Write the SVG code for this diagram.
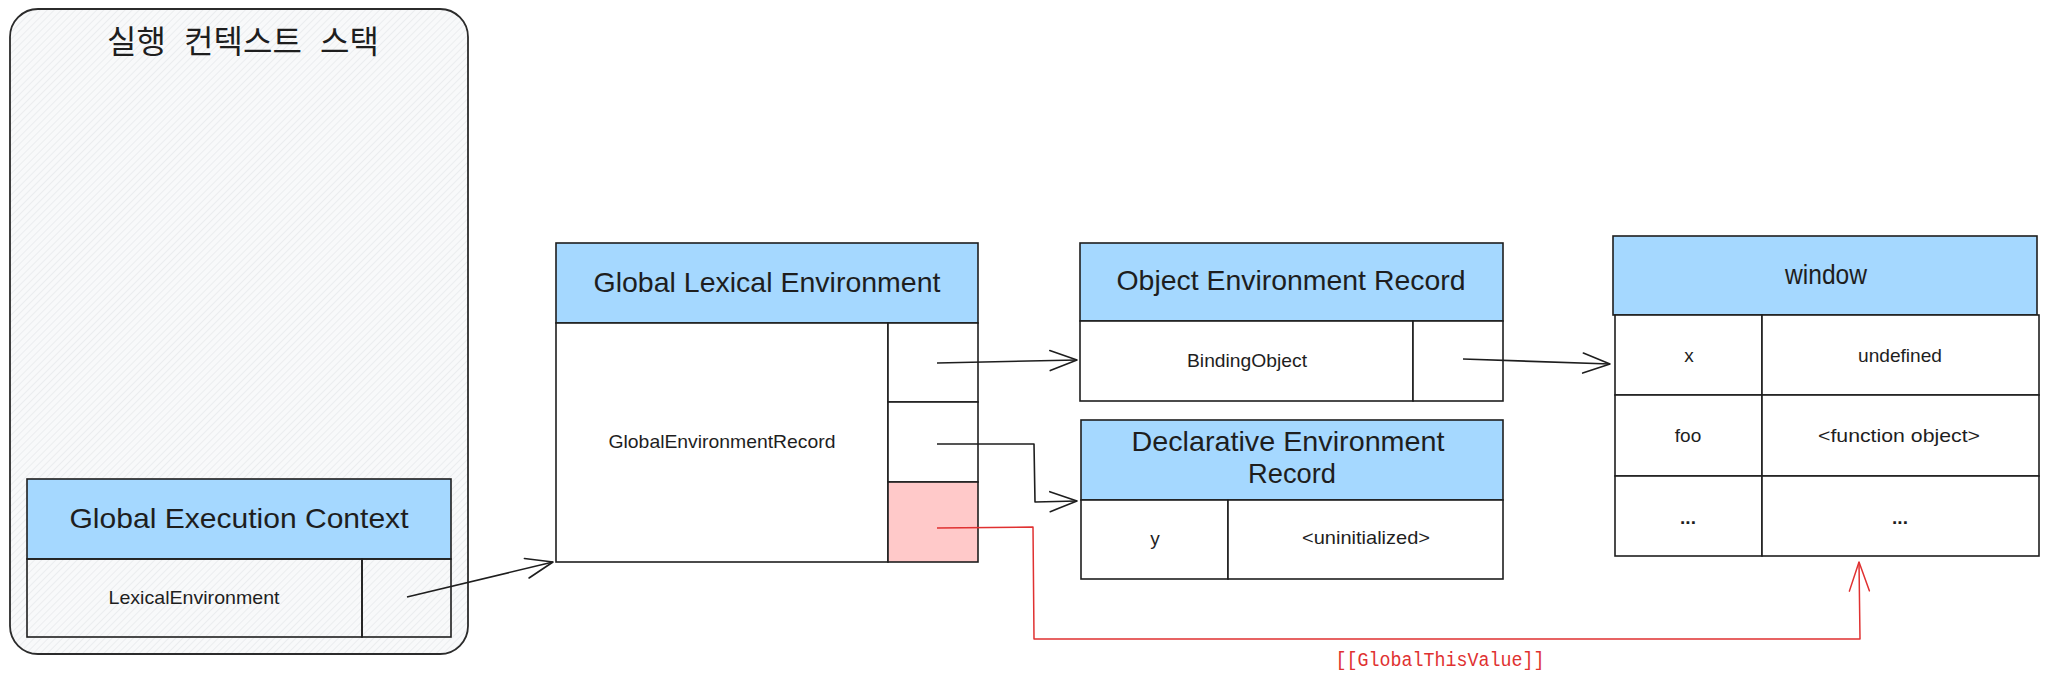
<svg xmlns="http://www.w3.org/2000/svg" width="2048" height="680" viewBox="0 0 2048 680">
  <defs>
    <pattern id="hatch" patternUnits="userSpaceOnUse" width="5" height="5" patternTransform="rotate(45)">
      <rect width="5" height="5" fill="#f8f9fa"/>
      <line x1="0" y1="0" x2="0" y2="5" stroke="#e3e5e8" stroke-width="1.2"/>
    </pattern>
    <marker id="arrow" markerUnits="userSpaceOnUse" markerWidth="32" markerHeight="26" refX="29" refY="13" orient="auto">
      <path d="M2,3 L29,13 L2,23" fill="none" stroke="#1e1e1e" stroke-width="1.6" stroke-linecap="round" stroke-linejoin="round"/>
    </marker>
    <marker id="arrowRed" markerUnits="userSpaceOnUse" markerWidth="34" markerHeight="26" refX="31" refY="13" orient="auto">
      <path d="M2,3 L31,13 L2,23" fill="none" stroke="#e03131" stroke-width="1.5" stroke-linecap="round" stroke-linejoin="round"/>
    </marker>
  </defs>
  <style>
    .cell { fill: #ffffff; stroke: #1e1e1e; stroke-width: 1.6; }
    .clear { fill: none; stroke: #1e1e1e; stroke-width: 1.6; }
    .head { fill: #a5d8ff; stroke: #1e1e1e; stroke-width: 1.6; }
    .pink { fill: #ffc9c9; stroke: #1e1e1e; stroke-width: 1.6; }
    .title { font-family: "Liberation Sans", Arial, sans-serif; font-size: 28px; fill: #1e1e1e; text-anchor: middle; }
    .label { font-family: "Liberation Sans", Arial, sans-serif; font-size: 19px; fill: #1e1e1e; text-anchor: middle; }
    .conn { fill: none; stroke: #1e1e1e; stroke-width: 1.6; stroke-linejoin: round; }
    .connRed { fill: none; stroke: #e03131; stroke-width: 1.5; stroke-linejoin: round; }
  </style>
  <rect width="2048" height="680" fill="#ffffff"/>

  <g id="stack">
    <rect x="10" y="9" width="458" height="645" rx="28" ry="28" fill="url(#hatch)" stroke="#2b2b2b" stroke-width="1.8"/>
    <text x="243" y="53" font-family="'Noto Sans CJK KR', sans-serif" font-size="32" font-weight="400" word-spacing="11" fill="#1e1e1e" text-anchor="middle">실행 컨텍스트 스택</text>
  </g>

  <g id="global-execution-context">
    <rect class="head" x="27" y="479" width="424" height="80"/>
    <text class="title" x="239" y="528" textLength="339" lengthAdjust="spacingAndGlyphs">Global Execution Context</text>
    <rect class="clear" x="27" y="559" width="335" height="78"/>
    <rect class="clear" x="362" y="559" width="89" height="78"/>
    <text class="label" x="194" y="604" textLength="171" lengthAdjust="spacingAndGlyphs">LexicalEnvironment</text>
  </g>

  <g id="global-lexical-environment">
    <rect class="head" x="556" y="243" width="422" height="80"/>
    <text class="title" x="767" y="292" textLength="347" lengthAdjust="spacingAndGlyphs">Global Lexical Environment</text>
    <rect class="cell" x="556" y="323" width="332" height="239"/>
    <text class="label" x="722" y="448" textLength="227" lengthAdjust="spacingAndGlyphs">GlobalEnvironmentRecord</text>
    <rect class="cell" x="888" y="323" width="90" height="79"/>
    <rect class="cell" x="888" y="402" width="90" height="80"/>
    <rect class="pink" x="888" y="482" width="90" height="80"/>
  </g>

  <g id="object-environment-record">
    <rect class="head" x="1080" y="243" width="423" height="78"/>
    <text class="title" x="1291" y="290" textLength="349" lengthAdjust="spacingAndGlyphs">Object Environment Record</text>
    <rect class="cell" x="1080" y="321" width="333" height="80"/>
    <rect class="cell" x="1413" y="321" width="90" height="80"/>
    <text class="label" x="1247" y="367" textLength="120" lengthAdjust="spacingAndGlyphs">BindingObject</text>
  </g>

  <g id="declarative-environment-record">
    <rect class="head" x="1081" y="420" width="422" height="80"/>
    <text class="title" x="1288" y="451" textLength="313" lengthAdjust="spacingAndGlyphs">Declarative Environment</text>
    <text class="title" x="1292" y="483" textLength="88" lengthAdjust="spacingAndGlyphs">Record</text>
    <rect class="cell" x="1081" y="500" width="147" height="79"/>
    <rect class="cell" x="1228" y="500" width="275" height="79"/>
    <text class="label" x="1155" y="545">y</text>
    <text class="label" x="1366" y="544" textLength="128" lengthAdjust="spacingAndGlyphs">&lt;uninitialized&gt;</text>
  </g>

  <g id="window">
    <rect class="head" x="1613" y="236" width="424" height="79"/>
    <text class="title" x="1826" y="284" textLength="82" lengthAdjust="spacingAndGlyphs">window</text>
    <rect class="cell" x="1615" y="315" width="147" height="80"/>
    <rect class="cell" x="1762" y="315" width="277" height="80"/>
    <rect class="cell" x="1615" y="395" width="147" height="81"/>
    <rect class="cell" x="1762" y="395" width="277" height="81"/>
    <rect class="cell" x="1615" y="476" width="147" height="80"/>
    <rect class="cell" x="1762" y="476" width="277" height="80"/>
    <text class="label" x="1689" y="362">x</text>
    <text class="label" x="1900" y="362" textLength="84" lengthAdjust="spacingAndGlyphs">undefined</text>
    <text class="label" x="1688" y="442">foo</text>
    <text class="label" x="1899" y="442" textLength="162" lengthAdjust="spacingAndGlyphs">&lt;function object&gt;</text>
    <text class="label" x="1688" y="524" font-weight="bold">...</text>
    <text class="label" x="1900" y="524" font-weight="bold">...</text>
  </g>

  <g id="connectors">
    <path class="conn" d="M407,597 L553,562" marker-end="url(#arrow)"/>
    <path class="conn" d="M937,363 L1077,360" marker-end="url(#arrow)"/>
    <path class="conn" d="M937,444 L1034,444 L1035,502 L1077,501" marker-end="url(#arrow)"/>
    <path class="conn" d="M1463,359 L1610,364" marker-end="url(#arrow)"/>
    <path class="connRed" d="M937,528 L1033,527 L1034,639 L1860,639 L1859,562" marker-end="url(#arrowRed)"/>
    <text x="1440" y="666" font-family="'Liberation Mono', 'DejaVu Sans Mono', monospace" font-size="20" fill="#e03131" text-anchor="middle" textLength="209" lengthAdjust="spacingAndGlyphs">[[GlobalThisValue]]</text>
  </g>
</svg>
